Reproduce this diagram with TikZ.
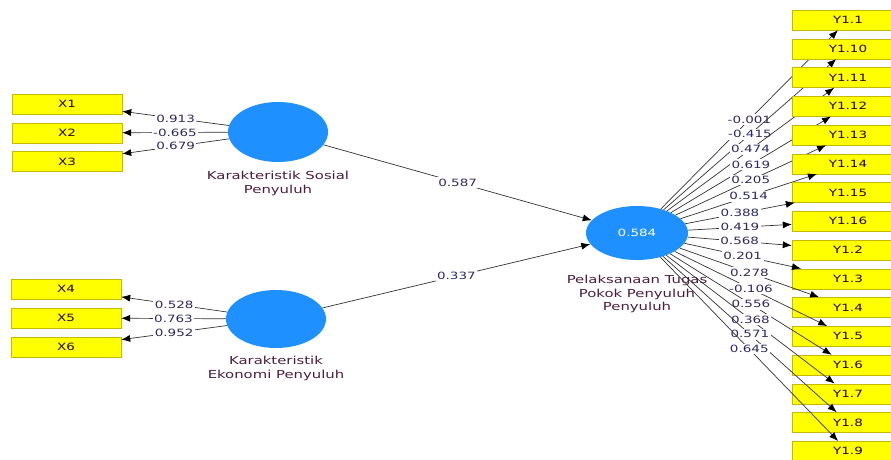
\documentclass[tikz,border=0pt]{standalone}
\usepackage{fontspec}
\usepackage{xcolor}
\usepackage{tikz}
\usetikzlibrary{arrows.meta,calc,positioning,shapes.geometric}
\newfontfamily\plsfont[FakeStretch=1.35]{DejaVu Sans}
\definecolor{plsblue}{RGB}{30,144,255}
\definecolor{plsline}{RGB}{50,50,50}
\definecolor{plsnum}{RGB}{45,40,100}
\definecolor{plstext}{RGB}{75,30,60}
\definecolor{plsedge}{RGB}{200,185,0}
\definecolor{plsyellow}{RGB}{255,255,0}
\tikzset{%
	construct/.style = {ellipse, fill=plsblue, minimum width=100pt, minimum height=58pt, inner sep=0pt, text=white, font=\plsfont\fontsize{10}{12}\selectfont},
	indicator/.style = {rectangle, draw=plsedge, fill=plsyellow, minimum width=110pt, minimum height=20pt, inner sep=0pt, text=black!85!red, font=\plsfont\fontsize{10}{12}\selectfont},
	caption/.style   = {align=center, inner sep=0pt, text=plstext, font=\plsfont\fontsize{11}{13.5}\selectfont},
	weight/.style    = {fill=white, inner sep=1.5pt, text=plsnum, font=\plsfont\fontsize{10}{12}\selectfont},
	link/.style      = {draw=plsline, line width=0.7pt, -{Latex[length=9pt,width=7pt,color=black]}},
}
\begin{document}
\begin{tikzpicture}[x=1pt,y=-1pt]
	\useasboundingbox (0,0) rectangle (891,460);
	\node[construct, minimum height=60pt] (sos) at (278,132) {};
	\node[construct] (eko) at (276,319) {};
	\node[construct, minimum width=102pt, minimum height=54pt] (pel) at (637,233) {0.584};
	\node[caption, below=9pt of sos] (soslabel) {Karakteristik Sosial\\Penyuluh};
	\node[caption, below=8pt of eko] (ekolabel) {Karakteristik\\Ekonomi Penyuluh};
	\node[caption, below=15pt of pel] (pellabel) {Pelaksanaan Tugas\\Pokok Penyuluh\\Penyuluh};
	
	\draw[link] (sos) -- node[weight] {0.587} (pel);
	\draw[link] (eko) -- node[weight] {0.337} (pel);
	
	\foreach \n/\y/\w in {1/104/0.913, 2/133/-0.665, 3/161.5/0.679}{
		\node[indicator] (x\n) at (67,\y) {X\n};
		\draw[link] (sos) -- node[weight] {\w} (x\n);
	}
	\foreach \n/\y/\w in {4/289/0.528, 5/318/0.763, 6/347/0.952}{
		\node[indicator] (x\n) at (66,\y) {X\n};
		\draw[link] (eko) -- node[weight] {\w} (x\n);
	}
	
	\foreach \lab/\w [count=\i from 0] in {1.1/-0.001, 1.10/-0.415, 1.11/0.474, 1.12/0.619, 1.13/0.205, 1.14/0.514, 1.15/0.388, 1.16/0.419, 1.2/0.568, 1.3/0.201, 1.4/0.278, 1.5/-0.106, 1.6/0.556, 1.7/0.368, 1.8/0.571, 1.9/0.645}{
		\node[indicator, minimum width=112pt] (y\i) at (848,{20+28.75*\i}) {Y\lab};
		\draw[link] (pel) -- node[weight] {\w} (y\i);
	}
\end{tikzpicture}
\end{document}
